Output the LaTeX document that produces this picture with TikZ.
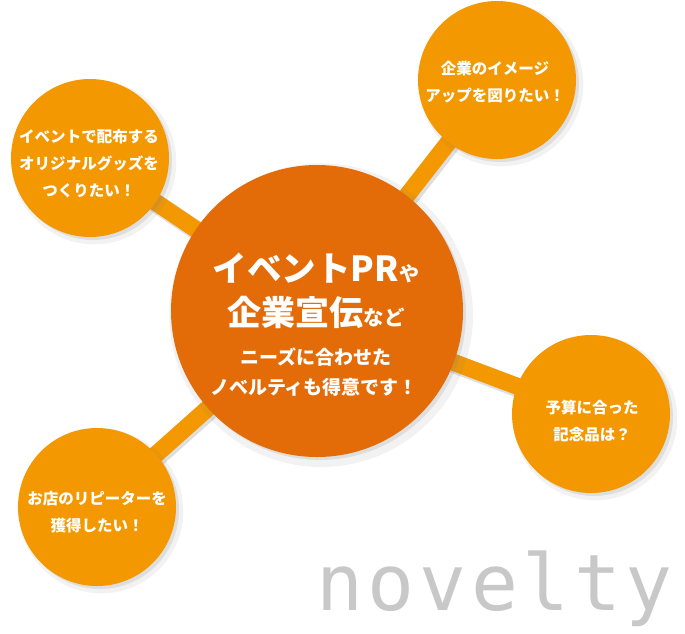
\documentclass[tikz,border=0pt]{standalone}
\usepackage{fontspec}
\newfontfamily\jp{Noto Sans CJK JP}
\newfontfamily\novfont[LetterSpace=6]{DejaVu Sans Mono}
\usetikzlibrary{shadows,backgrounds}
\definecolor{sub}{HTML}{F39800}
\definecolor{mainc}{HTML}{E36C09}
\definecolor{nov}{HTML}{C8C8C8}
\tikzset{
  softshadow/.style={
    drop shadow={opacity=0.10, shadow xshift=4pt, shadow yshift=-4pt, shadow scale=1.04},
    drop shadow={opacity=0.18, shadow xshift=3pt, shadow yshift=-3pt}},
  bubble/.style={circle, fill=sub, draw=none, minimum size=158pt, inner sep=0pt, softshadow},
  hub/.style={circle, fill=mainc, draw=none, minimum size=292pt, inner sep=0pt, softshadow},
  btext/.style={align=center, text=white, inner sep=0pt,
    font=\jp\bfseries\fontsize{15.5}{27}\selectfont},
  htext/.style={align=center, text=white, inner sep=0pt},
  spoke/.style={line width=17pt, draw=sub},
  spokeshadow/.style={line width=19pt, draw=black, opacity=0.13},
}
\begin{document}
\begin{tikzpicture}[x=1pt,y=-1pt]
\useasboundingbox (0,0) rectangle (685,633);
% bubbles
\node[hub] (c) at (317,311) {};
\node[bubble] (tl) at (90,158) {};
\node[bubble] (tr) at (497,80) {};
\node[bubble] (r) at (591,414) {};
\node[bubble] (bl) at (97,507) {};
% spokes
\begin{scope}[on background layer]
  \foreach \n in {tl,tr,r,bl}{
    \draw[spokeshadow] ([shift={(2,2)}]c.center) -- ([shift={(2,2)}]\n.center);
    \draw[spoke] (c.center) -- (\n.center);
  }
\end{scope}
% texts
\node[btext] (tlt) at (89,164) {イベントで配布する\\オリジナルグッズを\\つくりたい！};
\node[btext] (trt) at (495,82) {企業のイメージ\\アップを図りたい！};
\node[btext] (rt) at (592,421) {予算に合った\\記念品は？};
\node[btext] (blt) at (97,512) {お店のリピーターを\\獲得したい！};
\node[htext, anchor=base] (c1) at (316,281) {\jp\fontsize{34.5}{34}\selectfont\bfseries イベントPR\fontsize{20}{20}\selectfont や};
\node[htext, anchor=base] (c2) at (316,325) {\jp\fontsize{34}{34}\selectfont\bfseries 企業宣伝\fontsize{20.5}{20}\selectfont など};
\node[htext, anchor=base] (c3) at (316,364) {\jp\bfseries\fontsize{19}{19}\selectfont ニーズに合わせた};
\node[htext, anchor=base] (c4) at (314,394) {\jp\bfseries\fontsize{19}{19}\selectfont ノベルティも得意です！};
% novelty
\node[anchor=base west, inner sep=0pt, text=nov] (nv) at (316,610) {\novfont\fontsize{78}{78}\selectfont novelty};
\end{tikzpicture}
\end{document}
